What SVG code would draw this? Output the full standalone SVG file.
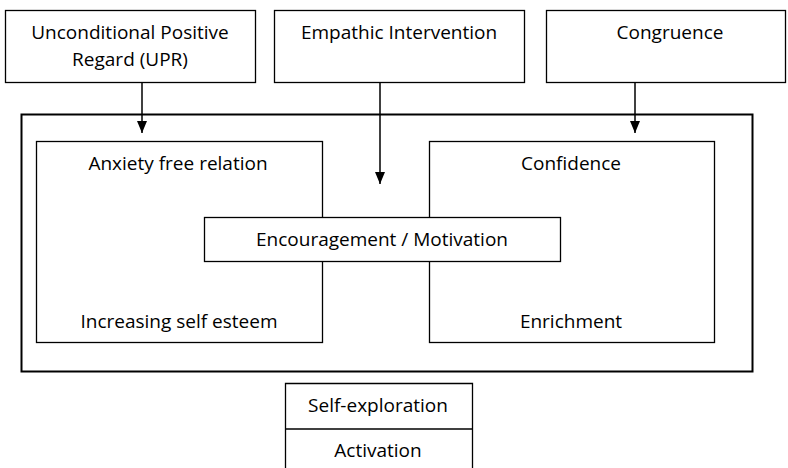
<svg xmlns="http://www.w3.org/2000/svg" width="788" height="468" viewBox="0 0 788 468">
<defs>
<style>
.box{fill:#fff;stroke:#000;stroke-width:1.3}
.outer{fill:none;stroke:#000;stroke-width:2}
.t{font-family:"Open Sans","Liberation Sans",sans-serif;font-size:19px;fill:#000;text-anchor:middle}
.c{stroke:#000;stroke-width:1.5;fill:none}
</style>
<marker id="ah" markerWidth="12" markerHeight="10" refX="12" refY="5" orient="auto" markerUnits="userSpaceOnUse">
<path d="M0,0 L12,5 L0,10 Z" fill="#000"/>
</marker>
</defs>
<rect width="788" height="468" fill="#fff"/>
<g id="outer"><rect class="outer" x="21.5" y="114.5" width="731" height="257"/></g>
<g id="upr"><rect class="box" x="5.5" y="10.5" width="250" height="72"/>
<text class="t" x="130" y="39">Unconditional Positive</text>
<text class="t" x="130" y="66">Regard (UPR)</text></g>
<g id="empathic"><rect class="box" x="274.5" y="10.5" width="250" height="72"/>
<text class="t" x="399" y="39">Empathic Intervention</text></g>
<g id="congruence"><rect class="box" x="546.5" y="10.5" width="239" height="72"/>
<text class="t" x="670" y="39">Congruence</text></g>
<g id="left"><rect class="box" x="36.5" y="141.5" width="286" height="201"/>
<text class="t" x="178" y="170">Anxiety free relation</text>
<text class="t" x="179" y="328">Increasing self esteem</text></g>
<g id="right"><rect class="box" x="429.5" y="141.5" width="285" height="201"/>
<text class="t" x="571" y="170">Confidence</text>
<text class="t" x="571" y="328">Enrichment</text></g>
<g id="middle"><rect class="box" x="204.5" y="217.5" width="356" height="44"/>
<text class="t" x="382" y="246">Encouragement / Motivation</text></g>
<g id="self"><path class="box" d="M285.5,468 V383.5 H472.5 V468"/>
<line x1="285" y1="429" x2="472" y2="429" stroke="#000" stroke-width="1.3"/>
<text class="t" x="378" y="412">Self-exploration</text>
<text class="t" x="378" y="457">Activation</text></g>
<g id="connectors">
<line class="c" x1="142" y1="83" x2="142" y2="133" marker-end="url(#ah)"/>
<line class="c" x1="380" y1="83" x2="380" y2="184" marker-end="url(#ah)"/>
<line class="c" x1="635" y1="83" x2="635" y2="133" marker-end="url(#ah)"/>
</g>
</svg>
